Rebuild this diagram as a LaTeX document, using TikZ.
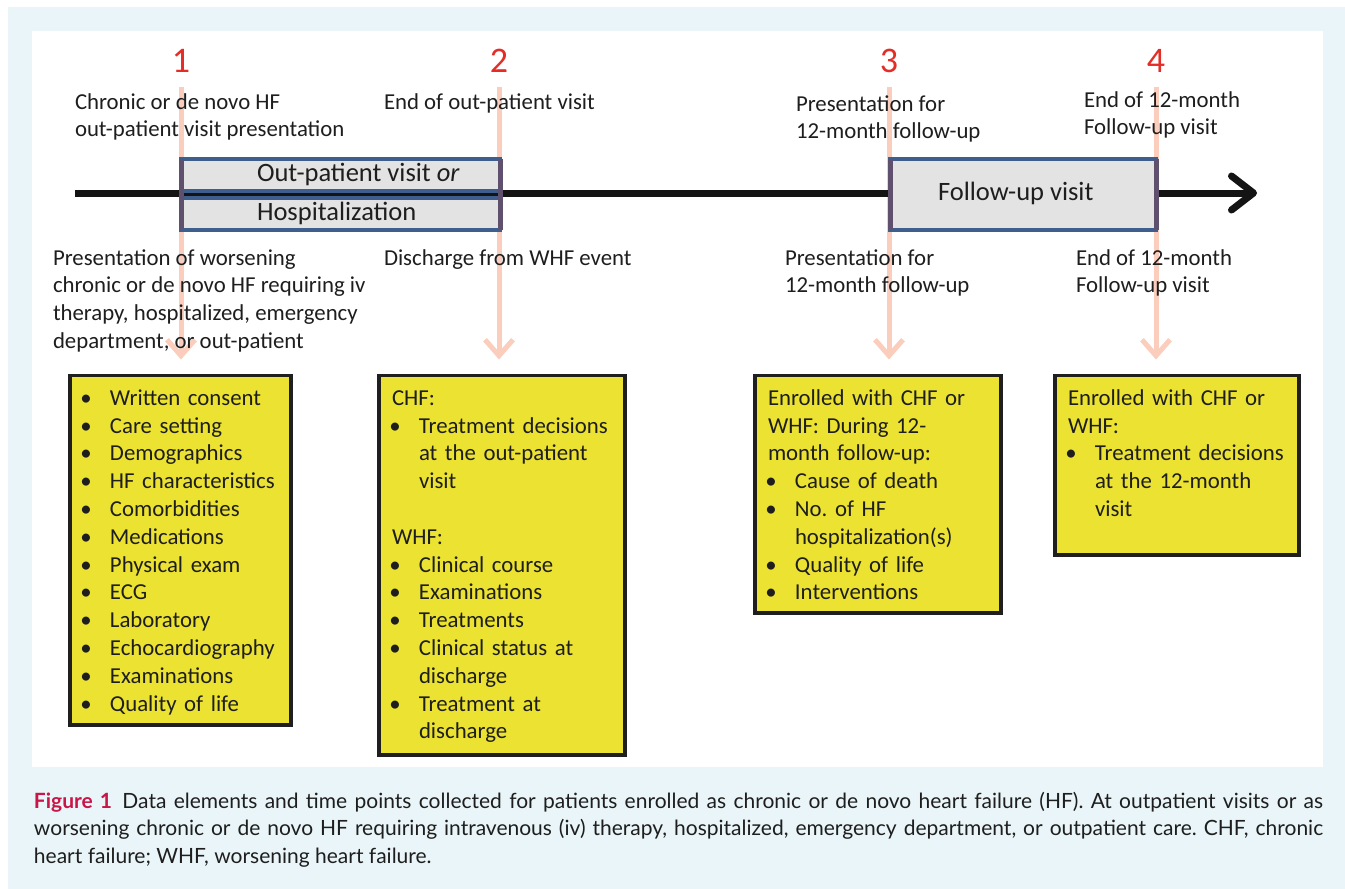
\documentclass[tikz,border=0pt]{standalone}
\usepackage{fontspec}
\setmainfont{Carlito}
\newfontfamily\capfont{Lato}
\usetikzlibrary{arrows.meta,calc}
\definecolor{bgblue}{RGB}{233,245,248}
\definecolor{yellowc}{RGB}{235,226,50}
\definecolor{grayc}{RGB}{227,227,227}
\definecolor{bluec}{RGB}{62,95,142}
\definecolor{sidec}{RGB}{95,80,110}
\definecolor{pinkc}{RGB}{251,205,188}
\definecolor{numred}{RGB}{228,45,38}
\definecolor{figred}{RGB}{200,22,72}
\definecolor{txt}{RGB}{30,30,30}
\pgfdeclarelayer{bg}\pgfdeclarelayer{mid}
\pgfsetlayers{bg,mid,main}
\frenchspacing
\newcommand\nl{\hfil\break}
\newcommand\bi[1]{\par\noindent\hangindent=27pt\hangafter=1\strut\makebox[27pt][l]{\hspace*{3pt}\makebox[0pt]{\textbullet}}#1}
\newcommand\pl[1]{\par\noindent\strut #1}
\tikzset{
  every node/.style={inner sep=0pt, outer sep=0pt, text=txt},
  base/.style={font=\fontsize{22.8}{27.8}\selectfont},
  lbl/.style={base, anchor=north west, align=left, yshift=19.46pt},
  num/.style={text=numred, font=\fontsize{36}{40}\selectfont, anchor=base},
  pinkarr/.style={draw=pinkc, line width=5pt, shorten <=15pt, shorten >=16pt, -{Straight Barb[length=16pt,width=28pt]}},
  timeline/.style={draw=black!92, line width=7pt, -{Straight Barb[length=22pt,width=34pt,round]}},
  gbox/.style={draw=bluec, fill=grayc, line width=4pt, anchor=north west},
  side/.style={draw=sidec, line width=5pt},
  gtext/.style={font=\fontsize{26.5}{30}\selectfont, anchor=base west},
  ybox/.style={draw=black!88, fill=yellowc, line width=3.5pt, anchor=north west},
  ytext/.style={base, anchor=north west, align=left, text width=230pt, yshift=19.46pt},
}
\begin{document}
\begin{tikzpicture}[x=1pt,y=-1pt]
\useasboundingbox (0,0) rectangle (1345,889);
\begin{pgfonlayer}{bg}
\fill[bgblue] (8,7) rectangle (1345,889);
\fill[white] (32,31) rectangle (1323,767);
\end{pgfonlayer}

% time point numbers
\node[num] (n1) at (181,72) {1};
\node[num] (n2) at (499,72) {2};
\node[num] (n3) at (889,72) {3};
\node[num] (n4) at (1156,72) {4};

% labels above the timeline
\node[lbl] (la1) at (75,109) {\strut Chronic or de novo HF\\out-patient visit presentation};
\node[lbl] (la2) at (384,109) {\strut End of out-patient visit};
\node[lbl] (la3) at (796,111) {\strut Presentation for\\12-month follow-up};
\node[lbl] (la4) at (1084,107) {\strut End of 12-month\\Follow-up visit};

% labels below the timeline
\node[lbl] (lb1) at (53,265) {\strut Presentation of worsening\\chronic or de novo HF requiring iv\\therapy, hospitalized, emergency\\department, or out-patient};
\node[lbl] (lb2) at (384,265) {\strut Discharge from WHF event};
\node[lbl] (lb3) at (785,265) {\strut Presentation for\\12-month follow-up};
\node[lbl] (lb4) at (1076,265) {\strut End of 12-month\\Follow-up visit};

% timeline
\coordinate (ts) at (75,193);
\coordinate (te) at (1257,193);

% grey period boxes
\node[gbox, minimum width=319pt, minimum height=32.6pt] (ob1) at (181,158.7) {};
\node[gbox, minimum width=319pt, minimum height=31.8pt] (ob2) at (181,198) {};
\node[gbox, minimum width=266pt, minimum height=70.8pt] (fb) at (890,158.7) {};
\draw[side] (ob1.north west) -- (ob2.south west);
\draw[side] (ob1.north east) -- (ob2.south east);
\draw[side] (fb.north west) -- (fb.south west);
\draw[side] (fb.north east) -- (fb.south east);
\node[gtext] (ot1) at (257,181.5) {Out-patient visit \textit{or}};
\node[gtext] (ot2) at (257,220.5) {Hospitalization};
\node[gtext] (ft) at (938,200.5) {Follow-up visit};

% yellow data boxes
\node[ybox, minimum width=221pt, minimum height=349.5pt] (A) at (70,375.5) {};
\node[ybox, minimum width=246pt, minimum height=379.5pt] (B) at (379,375.5) {};
\node[ybox, minimum width=246pt, minimum height=237.5pt] (C) at (755,375.5) {};
\node[ybox, minimum width=244pt, minimum height=179.5pt] (D) at (1055,375.5) {};

\node[ytext] (At) at (83,397) {%
\bi{Written consent}\bi{Care setting}\bi{Demographics}\bi{HF characteristics}%
\bi{Comorbidities}\bi{Medications}\bi{Physical exam}\bi{ECG}\bi{Laboratory}%
\bi{Echocardiography}\bi{Examinations}\bi{Quality of life}\par};
\node[ytext] (Bt) at (392,397) {%
\pl{CHF:}\bi{Treatment decisions\nl at the out-patient\nl visit}\par\vskip27.8pt
\pl{WHF:}\bi{Clinical course}\bi{Examinations}\bi{Treatments}%
\bi{Clinical status at\nl discharge}\bi{Treatment at\nl discharge}\par};
\node[ytext] (Ct) at (768,397) {%
\pl{Enrolled with CHF or}\pl{WHF: During 12-}\pl{month follow-up:}%
\bi{Cause of death}\bi{No. of HF\nl hospitalization(s)}\bi{Quality of life}\bi{Interventions}\par};
\node[ytext] (Dt) at (1068,397) {%
\pl{Enrolled with CHF or}\pl{WHF:}\bi{Treatment decisions\nl at the 12-month\nl visit}\par};

\begin{pgfonlayer}{mid}
\draw[pinkarr] (n1.south) -- (n1.south |- A.north);
\draw[pinkarr] (n2.south) -- (n2.south |- B.north);
\draw[pinkarr] (n3.south) -- (n3.south |- C.north);
\draw[pinkarr] (n4.south) -- (n4.south |- D.north);
\draw[timeline] (ts) -- (te);
\end{pgfonlayer}

% caption
\node[anchor=north west, text width=1289pt, align=justify, yshift=21pt,
      font=\capfont\fontsize{21}{27.5}\selectfont, text=txt] (cap) at (34,810)
{\strut\textcolor{figred}{\bfseries Figure 1}\hspace{0.5em}Data elements and time points collected for patients enrolled as chronic or de novo heart failure (HF). At outpatient visits or as\linebreak worsening chronic or de novo HF requiring intravenous (iv) therapy, hospitalized, emergency department, or outpatient care. CHF, chronic\linebreak heart failure; WHF, worsening heart failure.\par};
\end{tikzpicture}
\end{document}
